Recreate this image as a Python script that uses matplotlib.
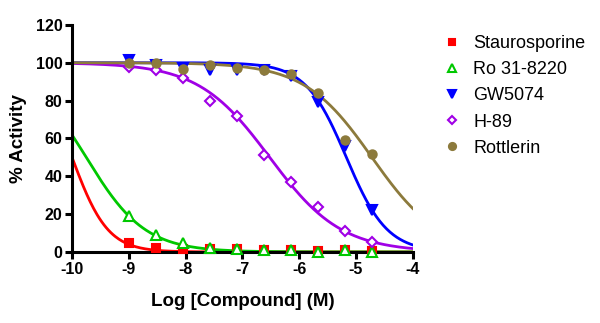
import numpy as np
import matplotlib.pyplot as plt

plt.rcParams['font.family'] = ['Liberation Sans', 'DejaVu Sans']
plt.rcParams['axes.unicode_minus'] = False

# log concentration of the measured points (M)
log_conc = [-9.0, -8.52, -8.05, -7.57, -7.10, -6.62, -6.15, -5.67, -5.20, -4.72]

names = ['Staurosporine', 'Ro 31-8220', 'GW5074', 'H-89', 'Rottlerin']

stauro = [4.5, 2.0, 1.5, 1.5, 1.5, 1.0, 1.0, 0.5, 1.0, 0.5]
ro318220 = [19, 9, 4.5, 2.0, 1.5, 1.0, 1.0, 0.0, 1.0, 0.0]
gw5074 = [101.5, 99, 97, 96, 96, 96, 93, 79, 56, 22]
h89 = [97.5, 96, 92, 80, 72, 51, 37, 24, 11, 5]
rottlerin = [100, 100, 96.5, 99, 97, 96, 94, 84, 59, 52]

# fitted curve parameters (logIC50, hill slope)
log_ic50 = [-10.0, -9.75, -5.17, -6.52, -4.72]
hill = [1.38, 0.84, 1.21, 0.69, 0.73]

colors = ['#ff0000', '#00c800', '#0000ff', '#a000e6', '#8c7a3c']
markers = ['s', '^', 'v', 'D', 'o']
filled = [True, False, True, False, True]
msizes = [5.5, 6.5, 6.5, 5, 6]

fig = plt.figure(figsize=(6, 3.23), dpi=100)
ax = fig.add_axes([0.12, 0.22, 0.568, 0.703])

series = [stauro, ro318220, gw5074, h89, rottlerin]
xfit = np.linspace(-10, -4, 300)
for i in range(5):
    yfit = 100 / (1 + 10 ** ((xfit - log_ic50[i]) * hill[i]))
    ax.plot(xfit, yfit, color=colors[i], lw=2.0, zorder=2)
for i in range(5):
    fc = colors[i] if filled[i] else 'white'
    ax.plot(log_conc, series[i], ls='none', marker=markers[i], ms=msizes[i],
            mfc=fc, mec=colors[i], mew=1.5, clip_on=False, zorder=3,
            label=names[i])

ax.set_xlim(-10, -4)
ax.set_ylim(0, 120)
ax.set_xticks([-10, -9, -8, -7, -6, -5, -4])
ax.set_yticks([0, 20, 40, 60, 80, 100, 120])
for s in ['top', 'right']:
    ax.spines[s].set_visible(False)
for s in ['left', 'bottom']:
    ax.spines[s].set_linewidth(2.2)
ax.tick_params(width=2.2, length=5, labelsize=11.5, pad=2)
for t in ax.get_xticklabels() + ax.get_yticklabels():
    t.set_fontweight('bold')
ax.set_xlabel('Log [Compound] (M)', fontsize=13.5, fontweight='bold', labelpad=12)
ax.set_ylabel('% Activity', fontsize=13.5, fontweight='bold', labelpad=6)

leg = ax.legend(loc='upper left', bbox_to_anchor=(1.045, 1.025), frameon=False,
                fontsize=13, handlelength=0.8, handletextpad=0.8,
                labelspacing=0.5, numpoints=1, markerscale=0.85)

fig.savefig('out.png', dpi=100)
